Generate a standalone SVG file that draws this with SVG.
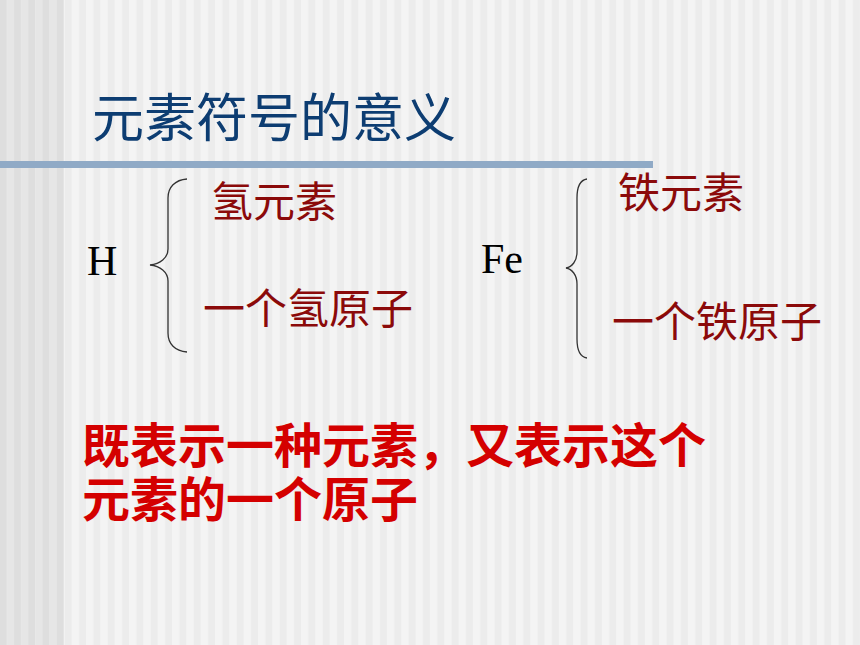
<svg xmlns="http://www.w3.org/2000/svg" width="860" height="645" viewBox="0 0 860 645">
<style>
.title{font-family:"Noto Sans CJK SC","Noto Sans",sans-serif;font-size:52px;fill:#0d3d72;}
.sym{font-family:"Liberation Serif",serif;font-size:42px;fill:#000;}
.item{font-family:"Noto Sans CJK SC",sans-serif;font-size:42px;fill:#8b0a0a;}
.note{font-family:"Noto Sans CJK SC",sans-serif;font-size:48px;font-weight:bold;fill:#d40000;}
.brace{fill:none;stroke:#333;stroke-width:1.3;}
</style>
<defs>
<pattern id="stripeL" x="0" y="0" width="14.33" height="10" patternUnits="userSpaceOnUse">
<rect x="0" y="0" width="7.17" height="10" fill="#f4f4f4"/>
<rect x="7.17" y="0" width="7.16" height="10" fill="#ececec"/>
</pattern>
<pattern id="stripeD" x="0" y="0" width="14.2" height="10" patternUnits="userSpaceOnUse">
<rect x="0" y="0" width="7.1" height="10" fill="#dedede"/>
<rect x="7.1" y="0" width="7.1" height="10" fill="#e6e6e6"/>
</pattern>
</defs>
<g id="background">
<rect x="0" y="0" width="860" height="645" fill="url(#stripeL)"/>
<rect x="0" y="0" width="64" height="645" fill="url(#stripeD)"/>
<rect x="0" y="161" width="653" height="7" fill="#90aac6"/>
</g>
<g id="title"><text class="title" x="92" y="137">元素符号的意义</text></g>
<g id="node-H">
<text class="sym" x="87" y="275">H</text>
</g>
<g id="node-H-element"><text class="item" x="211" y="217">氢元素</text></g>
<g id="node-H-atom"><text class="item" x="203" y="324">一个氢原子</text></g>
<g id="node-Fe">
<text class="sym" x="481" y="273">Fe</text>
</g>
<g id="node-Fe-element"><text class="item" x="618" y="208">铁元素</text></g>
<g id="node-Fe-atom"><text class="item" x="612" y="337">一个铁原子</text></g>
<g id="connectors">
<path class="brace" d="M187,179 C175,180 168,187 168,198 L168,249 C168,258 160,264 150,265 C160,266 168,272 168,281 L168,333 C168,344 175,351 187,352"/>
<path class="brace" d="M587,179 C580,180 577,187 577,198 L577,252 C577,261 572,267 566,268 C572,269 577,275 577,284 L577,339 C577,350 580,357 587,358"/>
</g>
<g id="note">
<text class="note"><tspan x="82" y="463">既表示一种元素，又表示这个</tspan><tspan x="82" y="517">元素的一个原子</tspan></text>
</g>
</svg>
